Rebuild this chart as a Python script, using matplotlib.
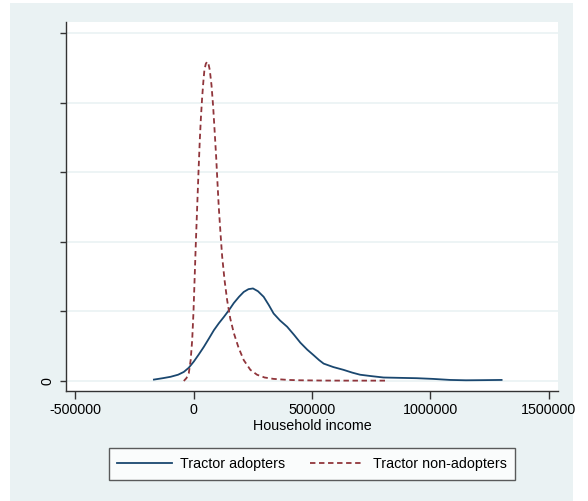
import matplotlib.pyplot as plt
from matplotlib.patches import Rectangle

plt.rcParams['font.family'] = ['Liberation Sans', 'DejaVu Sans']

# density estimates (y in units of the unlabeled tick spacing)
adopt_x = [-167000, -130000, -97000, -65000, -41000, -20000, 1400, 22000, 43500, 65000,
           86000, 107000, 128000, 150000, 170000, 192000, 212000, 232000, 251000, 272000,
           296000, 318000, 338000, 365000, 395000, 425000, 451000, 480000, 507000, 530000,
           549000, 590000, 633000, 670000, 703000, 750000, 802000, 870000, 942000, 1010000,
           1083000, 1150000, 1220000, 1300000]
adopt_y = [0.02, 0.04, 0.06, 0.09, 0.13, 0.19, 0.28, 0.38, 0.49, 0.61,
           0.73, 0.83, 0.92, 1.02, 1.12, 1.21, 1.28, 1.32, 1.33, 1.29,
           1.21, 1.09, 0.97, 0.87, 0.78, 0.66, 0.55, 0.45, 0.37, 0.30,
           0.25, 0.20, 0.16, 0.12, 0.09, 0.07, 0.05, 0.045, 0.04, 0.03,
           0.015, 0.01, 0.012, 0.015]

nonadopt_x = [-41000, -30000, -20000, -12000, -5500, 0, 5500, 10000, 15500, 21000,
              26500, 31500, 36600, 41500, 46000, 52000, 57700, 63000, 68700, 76000,
              83000, 89000, 95600, 101000, 106600, 114000, 120900, 131000, 142000, 155000,
              170000, 190000, 212000, 240000, 268000, 300000, 338000, 400000, 450000, 550000,
              650000, 808000]
nonadopt_y = [0.0, 0.04, 0.11, 0.3, 0.59, 1.0, 1.55, 2.0, 2.5, 3.0,
              3.46, 3.8, 4.08, 4.3, 4.47, 4.56, 4.59, 4.56, 4.47, 4.25,
              3.94, 3.6, 3.22, 2.86, 2.50, 2.12, 1.79, 1.45, 1.16, 0.9,
              0.69, 0.48, 0.30, 0.16, 0.09, 0.05, 0.03, 0.015, 0.01, 0.006,
              0.005, 0.005]

x_ticks = [-500000, 0, 500000, 1000000, 1500000]
y_ticks = [0, 1, 2, 3, 4, 5]
y_tick_labels = ['0', '', '', '', '', '']

bg = '#eaf2f3'
fig = plt.figure(figsize=(5.88, 5.01), dpi=100)
fig.patch.set_facecolor('white')
fig.patches.append(Rectangle((10 / 588, 0), 563 / 588, 498 / 501, transform=fig.transFigure,
                             facecolor=bg, edgecolor='none', zorder=-10))

ax = fig.add_axes([66 / 588, 110 / 501, 492 / 588, 369 / 501])
ax.set_facecolor('white')

ax.plot(adopt_x, adopt_y, color='#1a476f', lw=1.3, label='Tractor adopters')
ax.plot(nonadopt_x, nonadopt_y, color='#90353b', lw=1.3, ls=(0, (3, 2)),
        label='Tractor non-adopters')

ax.set_xlim(-538000, 1538000)
ax.set_ylim(-0.144, 5.16)
ax.set_xticks(x_ticks)
ax.set_xticklabels([str(t) for t in x_ticks])
ax.set_yticks(y_ticks)
ax.set_yticklabels(y_tick_labels, rotation=90, va='center')
ax.grid(axis='y', color=bg, lw=1.2)
ax.set_axisbelow(True)

for s in ['top', 'right']:
    ax.spines[s].set_visible(False)
for s in ['left', 'bottom']:
    ax.spines[s].set_color('#333333')
    ax.spines[s].set_linewidth(1)
ax.tick_params(axis='x', length=6, width=1, color='#333333', labelsize=10.3, pad=3)
ax.tick_params(axis='y', length=4.5, width=1, color='#333333', labelsize=10.3, pad=4)

ax.set_xlabel('Household income', fontsize=10.3, labelpad=1)

leg = fig.legend(loc='center', bbox_to_anchor=(312 / 588, 37 / 501), ncol=2,
                 fontsize=10.3, frameon=True, fancybox=False, handlelength=3.8,
                 handletextpad=0.6, columnspacing=1.7, borderpad=0.6)
leg.get_frame().set_edgecolor('#333333')
leg.get_frame().set_linewidth(1)

fig.savefig('out.png', dpi=100, facecolor=fig.get_facecolor())
